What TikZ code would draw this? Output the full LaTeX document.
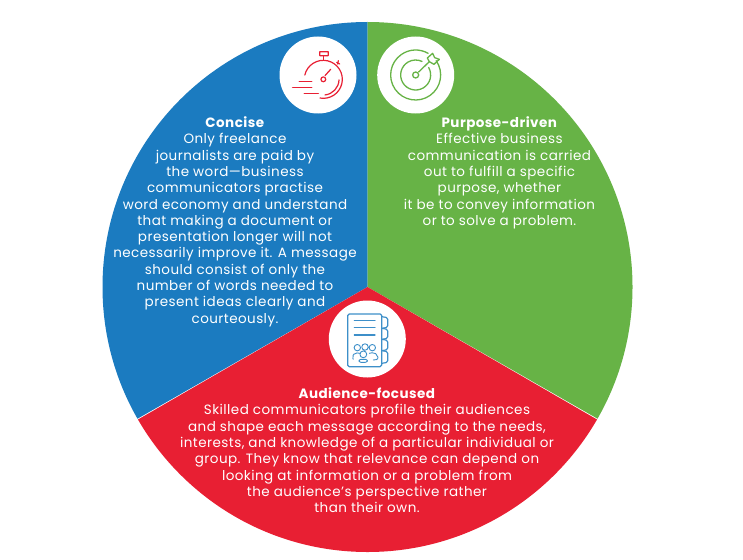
\documentclass[tikz,border=0pt]{standalone}
\usepackage{fontspec}
\setmainfont[LetterSpace=3.3]{Poppins}
\definecolor{cblue}{HTML}{1B7BC0}
\definecolor{cgreen}{HTML}{67B346}
\definecolor{cred}{HTML}{E81F33}
\tikzset{
  x=1pt,y=-1pt,
  body/.style={text=white,align=center,font=\fontsize{13.5}{16.3}\selectfont,inner sep=0pt,anchor=north},
  disc/.style={fill=white,draw=none},
  redicon/.style={draw=cred,line width=1.2pt,line cap=round},
  greenicon/.style={draw=cgreen,line width=1.3pt,line cap=round},
  blueicon/.style={draw=cblue!85,line width=1.2pt,line cap=round,line join=round},
  zoomunits/.style={x=0.3333pt,y=-0.3333pt},
}
\begin{document}
\begin{tikzpicture}
\useasboundingbox (0,0) rectangle (743,559);
\fill[white] (0,0) rectangle (743,559);
\coordinate (c) at (367.5,287);
% sectors
\begin{scope}
\clip (c) circle[radius=265pt];
\fill[cblue] (c) -- (367.5,10) -- (90,10) -- (90,435) -- (109,435) -- cycle;
\fill[cgreen] (c) -- (367.5,10) -- (650,10) -- (650,435) -- (626,435) -- cycle;
\fill[cred] (c) -- (597,419.5) -- (640,444) -- (640,559) -- (95,559) -- (95,444) -- (138,419.5) -- cycle;
\end{scope}
% discs
\fill[disc] (318,75) circle[radius=38.5pt];
\fill[disc] (415.7,75) circle[radius=38.5pt];
\fill[disc] (367.3,339) circle[radius=38.5pt];
% stopwatch
\begin{scope}[shift={(270,30)},zoomunits]
\coordinate (w) at (160,148);
\draw[redicon] ([shift={(167:19pt)}]w) arc[start angle=167,end angle=-100,radius=19pt];
\draw[redicon] ([shift={(-2:15.7pt)}]w) arc[start angle=-2,end angle=-84,radius=15.7pt];
\draw[redicon] (w) circle[radius=2.4pt];
\draw[redicon] (165,137) -- (182,118);
\draw[redicon,rounded corners=0.5pt] (149,65) rectangle (175,77);
\draw[redicon] (160,77) -- (160,90);
\draw[redicon] (200,97) -- (209,102) (205,92) -- (203,102);
\draw[redicon,line width=1.6pt] (88,154.5) -- (125,154.5) (68,172.5) -- (125,172.5) (103,190.5) -- (145,190.5);
\end{scope}
% target
\begin{scope}[shift={(270,30)},zoomunits]
\coordinate (t) at (437,135);
\draw[greenicon] ([shift={(35:25pt)}]t) arc[start angle=35,end angle=-300,radius=25pt];
\draw[greenicon] ([shift={(30:15pt)}]t) arc[start angle=30,end angle=-295,radius=15pt];
\draw[greenicon] (t) circle[radius=3pt];
\draw[greenicon] (446,126) -- (478,95);
\draw[greenicon,line join=round] (478,95) -- (472,84) -- (488,70) -- (494,83) -- (508,88) -- (492,103) -- cycle;
\end{scope}
% document
\begin{scope}[shift={(310,300)},zoomunits]
\draw[blueicon,rounded corners=1.5pt] (113,42) rectangle (215,200);
\draw[blueicon,rounded corners=1.5pt] (215,50) -- (233,53) -- (233,82) -- (215,85);
\draw[blueicon,rounded corners=1.5pt] (215,85) -- (233,88) -- (233,115) -- (215,118);
\draw[blueicon,rounded corners=1.5pt] (215,118) -- (233,121) -- (233,149) -- (215,152);
\draw[blueicon,rounded corners=1.5pt] (215,152) -- (233,155) -- (233,187) -- (215,190);
\draw[blueicon] (133,62) -- (195,62) (133,83) -- (195,83) (133,105) -- (195,105);
\draw[blueicon,line width=0.9pt] (142,143) circle[radius=3.2pt] (187,143) circle[radius=3.2pt] (165,141) circle[radius=3.2pt] (160,163) circle[radius=3.4pt];
\draw[blueicon,line width=0.9pt,rounded corners=2pt] (130,178) -- (126,170) -- (135,158) -- (150,160);
\draw[blueicon,line width=0.9pt,rounded corners=2pt] (190,180) -- (205,178) -- (202,165) -- (192,157) -- (178,160);
\draw[blueicon,line width=0.9pt,rounded corners=2pt] (147,187) -- (147,178) -- (172,178) -- (172,187) -- cycle;
\end{scope}
% text
\node[body] (concise) at (235,116.5) {\textbf{Concise}\\Only freelance\\journalists are paid by\\the word—business\\communicators practise\\word economy and understand\\that making a document or\\presentation longer will not\\necessarily improve it. A message\\should consist of only the\\number of words needed to\\present ideas clearly and\\courteously.};
\node[body] (purpose) at (499.5,116.5) {\textbf{Purpose-driven}\\Effective business\\communication is carried\\out to fulfill a specific\\purpose, whether\\it be to convey information\\or to solve a problem.};
\node[body] (audience) at (367,387.5) {\textbf{Audience-focused}\\Skilled communicators profile their audiences\\and shape each message according to the needs,\\interests, and knowledge of a particular individual or\\group. They know that relevance can depend on\\looking at information or a problem from\\the audience’s perspective rather\\than their own.};
\end{tikzpicture}
\end{document}
